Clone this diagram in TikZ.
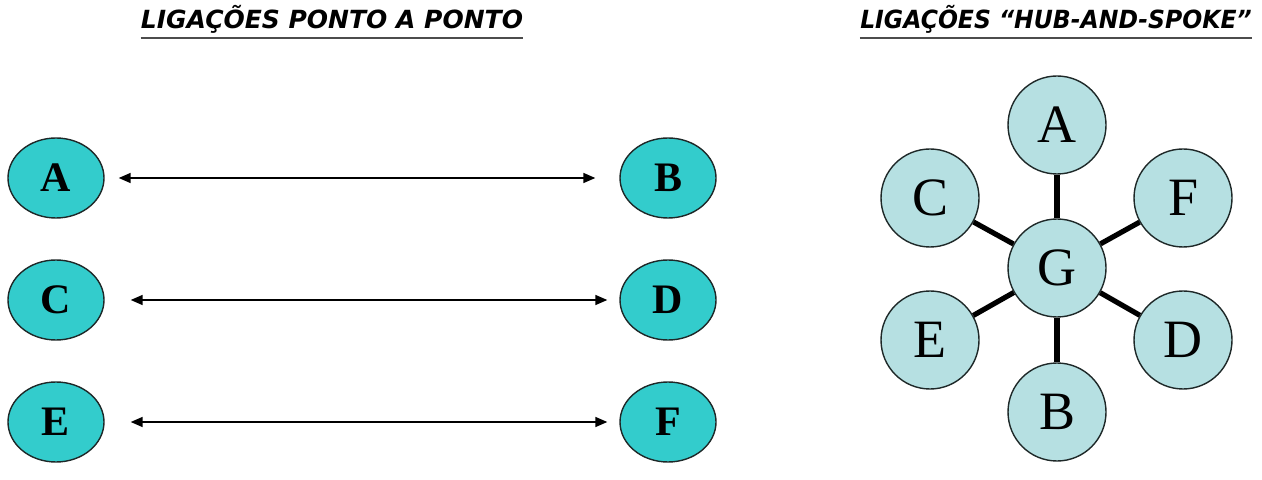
\documentclass[tikz,border=0pt]{standalone}
\usepackage{fontspec}
\setmainfont{Liberation Serif}
\newfontfamily\titlefont{DejaVu Sans}
\usetikzlibrary{shapes.geometric,arrows.meta}
\definecolor{teal1}{RGB}{51,204,204}
\definecolor{hubfill}{RGB}{182,224,226}
\definecolor{edge}{RGB}{30,40,40}
\tikzset{
  ptnode/.style={ellipse,draw=edge,line width=0.7pt,fill=teal1,minimum width=48pt,minimum height=40pt,inner sep=0pt,font=\fontsize{21}{21}\selectfont\bfseries},
  hubnode/.style={circle,draw=edge,line width=0.7pt,fill=hubfill,minimum size=49pt,inner sep=0pt,font=\fontsize{27}{27}\selectfont},
  link/.style={line width=0.8pt,{Triangle[length=6pt,width=5pt]}-{Triangle[length=6pt,width=5pt]}},
  spoke/.style={line width=2.6pt},
  title/.style={font=\titlefont\fontsize{12.5}{12.5}\selectfont\bfseries\itshape,inner sep=0pt,anchor=base},
  uline/.style={line width=1.3pt,draw=black!70}
}
\begin{document}
\begin{tikzpicture}[x=0.5pt,y=-0.5pt]
\useasboundingbox (0,0) rectangle (1262,480);
% titles
\node[title] (t1) at (332,29) {LIGAÇÕES PONTO A PONTO};
\draw[uline] ([yshift=-4.5pt]t1.base west) -- ([yshift=-4.5pt]t1.base east);
\node[title] (t2) at (1056,29) {\scalebox{0.94}[1]{LIGAÇÕES “HUB-AND-SPOKE”}};
\draw[uline] ([yshift=-4.5pt]t2.base west) -- ([yshift=-4.5pt]t2.base east);
% point to point
\node[ptnode] (pA) at (56,178) {A};
\node[ptnode] (pB) at (668,178) {B};
\node[ptnode] (pC) at (56,300) {C};
\node[ptnode] (pD) at (668,300) {D};
\node[ptnode] (pE) at (56,422) {E};
\node[ptnode] (pF) at (668,422) {F};
\draw[link,shorten <=7pt,shorten >=12pt] (pA) -- (pB);
\draw[link,shorten <=13pt,shorten >=6pt] (pC) -- (pD);
\draw[link,shorten <=13pt,shorten >=6pt] (pE) -- (pF);
% hub and spoke
\node[hubnode] (hG) at (1057,268) {G};
\node[hubnode] (hA) at (1057,125) {A};
\node[hubnode] (hC) at (930,198) {C};
\node[hubnode] (hF) at (1183,198) {F};
\node[hubnode] (hE) at (930,340) {E};
\node[hubnode] (hD) at (1183,340) {D};
\node[hubnode] (hB) at (1057,412) {B};
\foreach \n in {hA,hB,hC,hD,hE,hF}{\draw[spoke] (hG) -- (\n);}
\end{tikzpicture}
\end{document}
